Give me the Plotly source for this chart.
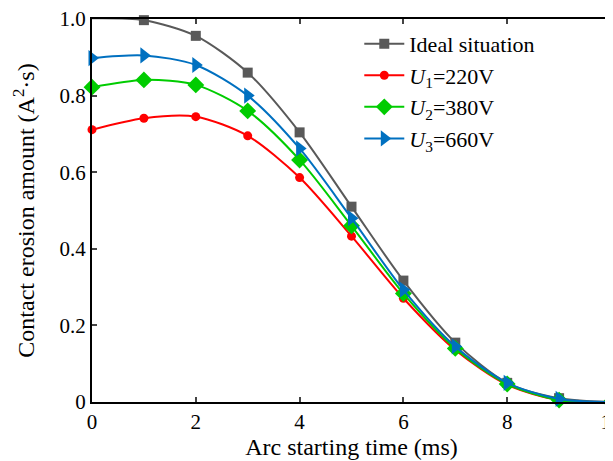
import plotly.graph_objects as go

time_ms = [0, 1, 2, 3, 4, 5, 6, 7, 8, 9, 10]
ideal = [1.002, 0.997, 0.956, 0.860, 0.704, 0.510, 0.317, 0.155, 0.050, 0.010, 0.0]
u1_220 = [0.711, 0.741, 0.745, 0.695, 0.586, 0.433, 0.271, 0.136, 0.045, 0.005, 0.0]
u2_380 = [0.822, 0.841, 0.828, 0.760, 0.632, 0.460, 0.283, 0.140, 0.047, 0.005, 0.0]
u3_660 = [0.898, 0.905, 0.880, 0.800, 0.662, 0.480, 0.293, 0.145, 0.050, 0.008, 0.0]

y_ticks = [0, 0.2, 0.4, 0.6, 0.8, 1.0]
y_tick_labels = ["0", "0.2", "0.4", "0.6", "0.8", "1.0"]
x_ticks = [0, 2, 4, 6, 8, 10]

series = [
    ("Ideal situation", ideal, "#595959", "square", 10),
    ("<i>U</i><sub>1</sub>=220V", u1_220, "#ff0000", "circle", 9),
    ("<i>U</i><sub>2</sub>=380V", u2_380, "#00cc00", "diamond", 13),
    ("<i>U</i><sub>3</sub>=660V", u3_660, "#0070c0", "triangle-right", 14),
]

fig = go.Figure()
for name, vals, color, sym, size in series:
    fig.add_trace(go.Scatter(
        x=time_ms, y=vals, name=name, mode="lines+markers",
        line=dict(color=color, width=2, shape="spline", smoothing=0.8),
        marker=dict(symbol=sym, size=size, color=color),
        cliponaxis=False,
    ))

font = dict(family="Liberation Serif, Times New Roman, serif", size=20, color="black")
fig.update_layout(
    width=605, height=453,
    margin=dict(l=84, r=2, t=11, b=59, autoexpand=False),
    paper_bgcolor="white", plot_bgcolor="white",
    font=font,
    showlegend=True,
    legend=dict(x=0.515, y=0.99, xanchor="left", yanchor="top",
                bgcolor="rgba(0,0,0,0)", font=dict(size=22),
                tracegroupgap=0, itemwidth=40),
    xaxis=dict(range=[0, 10], tickvals=x_ticks, ticks="inside", ticklen=5,
               tickwidth=1.5, showline=True, linecolor="black", linewidth=2,
               mirror="ticks", showgrid=False, zeroline=False,
               automargin=False, ticklabeloverflow="allow",
               title=dict(text="Arc starting time (ms)", standoff=4),
               tickfont=dict(size=21)),
    yaxis=dict(range=[0, 1.0], tickvals=y_ticks, ticktext=y_tick_labels,
               ticks="inside", ticklen=5, tickwidth=1.5, showline=True,
               linecolor="black", linewidth=2, mirror="ticks", showgrid=False,
               zeroline=False, automargin=False, ticklabeloverflow="allow",
               title=dict(text="Contact erosion amount (A<sup>2</sup>·s)", standoff=18),
               tickfont=dict(size=21)),
)
fig.write_html("out.html")
